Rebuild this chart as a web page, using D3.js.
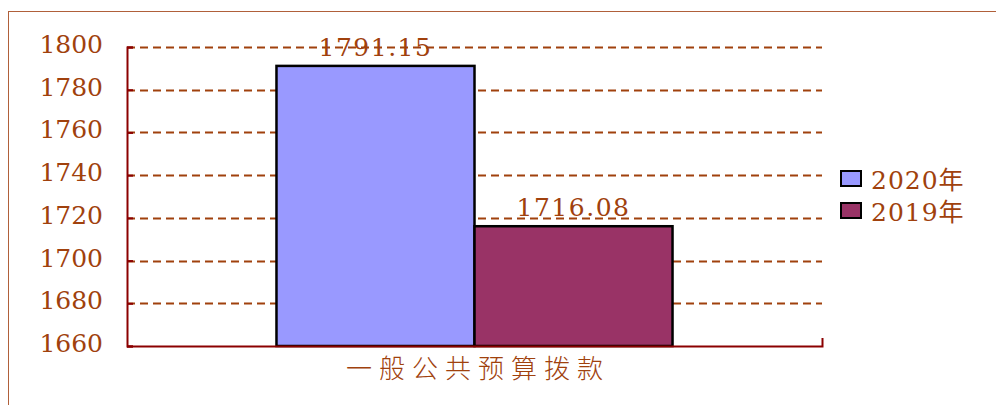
<!DOCTYPE html>
<html>
<head>
<meta charset="utf-8">
<script src="https://cdn.jsdelivr.net/npm/d3@7"></script>
<style>
body { margin: 0; background: #fff; }
text { font-family: "DejaVu Serif", "Noto Sans CJK SC", serif; }
</style>
</head>
<body>
<script>
var categories = ["一般公共预算拨款"];
var seriesNames = ["2020年", "2019年"];
var values2020 = [1791.15];
var values2019 = [1716.08];
var labels2020 = ["1791.15"];
var labels2019 = ["1716.08"];
var yTicks = [1660, 1680, 1700, 1720, 1740, 1760, 1780, 1800];
var colors = ["#9999FF", "#993366"];

var W = 996, H = 405;
var margin = { top: 47, right: 174, bottom: 59, left: 127 },
    width = W - margin.left - margin.right,
    height = H - margin.top - margin.bottom;
var textColor = "#A0410D";

var svg = d3.select("body").append("svg")
    .attr("width", W)
    .attr("height", H);

// outer frame
svg.append("rect")
    .attr("x", 8.5).attr("y", 11.5)
    .attr("width", W).attr("height", H)
    .attr("fill", "none")
    .attr("stroke", "#B0603A")
    .attr("stroke-width", 1);

var g = svg.append("g")
    .attr("transform", "translate(" + margin.left + "," + margin.top + ")");

var y = d3.scaleLinear().domain([1660, 1800]).range([height, 0]);
var x0 = d3.scaleBand().domain(categories).range([0, width]).padding(0.274);
var x1 = d3.scaleBand().domain(seriesNames).range([0, x0.bandwidth()]);

// grid lines
g.append("g")
    .selectAll("line")
    .data(yTicks.filter(function (d) { return d !== 1660; }))
    .enter().append("line")
    .attr("x1", 0).attr("x2", width)
    .attr("y1", function (d) { return Math.round(y(d)) + 0.5; })
    .attr("y2", function (d) { return Math.round(y(d)) + 0.5; })
    .attr("stroke", "#A0410D")
    .attr("stroke-width", 2)
    .attr("stroke-dasharray", "8,5");

// bars
var series = [values2020, values2019];
var labels = [labels2020, labels2019];
seriesNames.forEach(function (s, i) {
    g.selectAll(".bar" + i)
        .data(categories)
        .enter().append("rect")
        .attr("x", function (d) { return x0(d) + x1(s); })
        .attr("y", function (d, j) { return y(series[i][j]); })
        .attr("width", x1.bandwidth())
        .attr("height", function (d, j) { return height - y(series[i][j]); })
        .attr("fill", colors[i])
        .attr("stroke", "#000")
        .attr("stroke-width", 2.5);
    g.selectAll(".lab" + i)
        .data(categories)
        .enter().append("text")
        .attr("x", function (d) { return x0(d) + x1(s) + x1.bandwidth() / 2; })
        .attr("y", function (d, j) { return y(series[i][j]) - 10; })
        .attr("text-anchor", "middle")
        .attr("fill", textColor)
        .attr("font-size", 25)
        .attr("letter-spacing", 1.5)
        .text(function (d, j) { return labels[i][j]; });
});

// y axis
var yAxis = g.append("g")
    .call(d3.axisLeft(y).tickValues(yTicks).tickSize(-6).tickPadding(24).tickFormat(d3.format("d")));
yAxis.select(".domain").attr("stroke", "#8B0000").attr("stroke-width", 2);
yAxis.selectAll(".tick line").attr("stroke", "#8B0000").attr("stroke-width", 2);
yAxis.selectAll("text").attr("fill", textColor).attr("font-size", 25)
    .attr("font-family", "DejaVu Serif").attr("dy", "0.22em");

// x axis
var xAxis = g.append("g")
    .attr("transform", "translate(0," + height + ")")
    .call(d3.axisBottom(x0).tickSize(0).tickPadding(14));
xAxis.select(".domain").remove();
g.append("path")
    .attr("d", "M0," + (height + 0.5) + "H" + (width + 0.5) + "V" + (height - 8))
    .attr("fill", "none")
    .attr("stroke", "#8B0000")
    .attr("stroke-width", 2);
xAxis.selectAll("text").attr("fill", textColor).attr("font-size", 26)
    .attr("font-family", "Noto Sans CJK SC").attr("font-weight", 300)
    .attr("letter-spacing", 7).attr("dx", 3.5);

// legend
var legend = svg.append("g").attr("transform", "translate(841,171)");
seriesNames.forEach(function (s, i) {
    var row = legend.append("g").attr("transform", "translate(0," + (i * 32) + ")");
    row.append("rect")
        .attr("width", 20).attr("height", 15)
        .attr("fill", colors[i])
        .attr("stroke", "#000")
        .attr("stroke-width", 2);
    row.append("text")
        .attr("x", 30).attr("y", 18)
        .attr("fill", textColor)
        .attr("font-size", 25)
        .attr("letter-spacing", 1)
        .text(s);
});
</script>
</body>
</html>
